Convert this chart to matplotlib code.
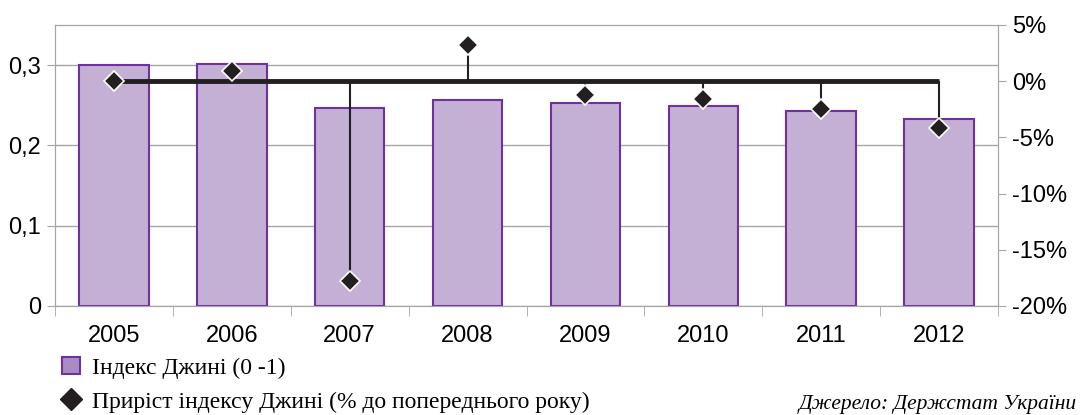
import matplotlib
matplotlib.use('Agg')
import matplotlib.pyplot as plt
import numpy as np
from matplotlib.patches import Patch
from matplotlib.lines import Line2D
from matplotlib.ticker import FixedLocator, FuncFormatter

# дані з графіка
years = ["2005", "2006", "2007", "2008", "2009", "2010", "2011", "2012"]
gini_index = [0.300, 0.302, 0.247, 0.256, 0.253, 0.249, 0.243, 0.233]
gini_growth = [0.0, 0.9, -17.8, 3.2, -1.2, -1.6, -2.5, -4.2]  # % до попереднього року

label_bars = "Індекс Джині (0 -1)"
label_growth = "Приріст індексу Джині (% до попереднього року)"
source = "Джерело: Держстат України"

sans = ['Liberation Sans', 'DejaVu Sans']
serif = ['Liberation Serif', 'DejaVu Serif']

bar_face = "#c4b0d4"
bar_edge = "#7030a0"
grid_col = "#a6a6a6"

fig = plt.figure(figsize=(10.82, 4.15), dpi=100)
ax = fig.add_axes([0.0508, 0.2627, 0.8716, 0.6771])
x = np.arange(len(years))

ax.bar(x, gini_index, width=0.59, color=bar_face, edgecolor=bar_edge, linewidth=1.5, zorder=2)
ax.set_xlim(-0.5, len(years) - 0.5)
ax.set_ylim(0, 0.35)
ax.set_yticks([0, 0.1, 0.2, 0.3])
ax.yaxis.set_major_formatter(FuncFormatter(lambda v, p: "0" if v == 0 else f"{v:.1f}".replace(".", ",")))
ax.grid(True, axis="y", color=grid_col, linewidth=1, zorder=0)
ax.set_axisbelow(True)

ax.set_xticks(x)
ax.set_xticklabels(years)
ax.xaxis.set_minor_locator(FixedLocator(np.arange(-0.5, len(years), 1.0)))
ax.tick_params(axis="x", which="major", length=0, pad=14, labelsize=17)
ax.tick_params(axis="x", which="minor", length=7, color=grid_col, direction="out")
ax.tick_params(axis="y", length=6, color=grid_col, labelsize=17, pad=4)
for lab in ax.get_xticklabels() + ax.get_yticklabels():
    lab.set_family(sans)
for sp in ax.spines.values():
    sp.set_color(grid_col)

# друга вісь - приріст
ax2 = ax.twinx()
ax2.set_ylim(-20, 5)
ax2.set_yticks([5, 0, -5, -10, -15, -20])
ax2.yaxis.set_major_formatter(FuncFormatter(lambda v, p: f"{v:.0f}%"))
ax2.tick_params(axis="y", length=6, color=grid_col, labelsize=17, pad=4)
for lab in ax2.get_yticklabels():
    lab.set_family(sans)
for sp in ax2.spines.values():
    sp.set_color(grid_col)

ax2.vlines(x, 0, gini_growth, color="#231f20", linewidth=1.5, zorder=3)
ax2.hlines(0, x[0], x[-1], color="#231f20", linewidth=3.5, zorder=4)
ax2.plot(x, gini_growth, linestyle="none", marker="D", markersize=10,
         markerfacecolor="#231f20", markeredgecolor="white", markeredgewidth=1.2, zorder=5)

# легенда
handles = [
    Patch(facecolor="#a98cc4", edgecolor=bar_edge, linewidth=1.5),
    Line2D([], [], linestyle="none", marker="D", markersize=11, color="#231f20"),
]
fig.legend(handles, [label_bars, label_growth], loc="upper left",
           bbox_to_anchor=(0.0573, 0.14), frameon=False, handlelength=0.76,
           handleheight=0.76, handletextpad=0.5, labelspacing=0.5,
           borderpad=0.0, borderaxespad=0.0,
           prop={"family": serif, "size": 17})

fig.text(0.995, 0.026, source, ha="right", va="center", family=serif,
         style="italic", fontsize=15.5)

fig.savefig("out.png", dpi=100)
plt.close(fig)
